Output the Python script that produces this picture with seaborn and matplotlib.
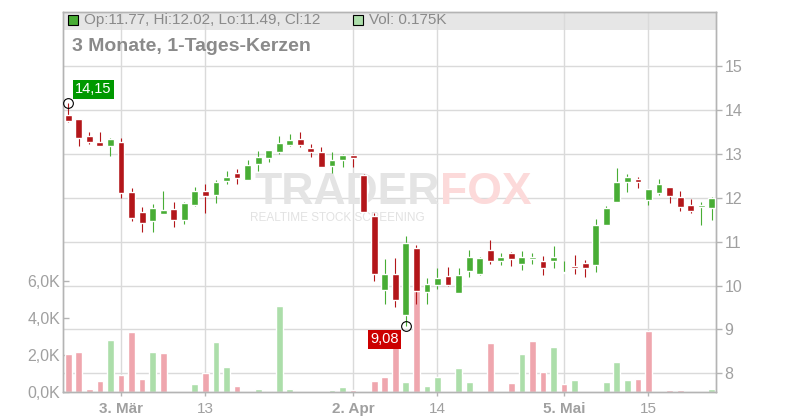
import numpy as np
import pandas as pd
import seaborn as sns
import matplotlib
matplotlib.use('Agg')
import matplotlib.pyplot as plt
from matplotlib.patches import Rectangle
from matplotlib.transforms import blended_transform_factory

# daily candles, 24 Feb - 23 May (trading days only)
opens = [13.89, 13.80, 13.41, 13.27, 13.17, 13.27, 12.13, 11.68, 11.46, 11.62,
         11.75, 11.50, 11.84, 12.15, 12.07, 12.39, 12.56, 12.41, 12.78, 12.91,
         13.05, 13.21, 13.34, 13.13, 13.04, 12.73, 12.87, 12.97, 12.52, 11.59,
         9.89, 10.26, 9.32, 10.86, 9.86, 10.01, 10.22, 9.82, 10.34, 10.26,
         10.81, 10.55, 10.74, 10.50, 10.61, 10.56, 10.55, 10.29, 10.45, 10.52,
         10.48, 11.39, 11.91, 12.35, 12.43, 11.96, 12.12, 12.25, 12.02, 11.84,
         11.78, 11.77]
highs = [14.15, 13.80, 13.50, 13.50, 13.37, 13.36, 12.22, 11.79, 11.86, 12.15,
         11.90, 11.90, 12.25, 12.32, 12.41, 12.61, 12.66, 12.86, 13.07, 13.09,
         13.41, 13.45, 13.50, 13.23, 13.16, 13.04, 13.00, 13.00, 12.54, 11.65,
         10.61, 10.63, 11.13, 10.92, 10.17, 10.40, 10.42, 10.40, 10.80, 10.64,
         11.04, 10.74, 10.76, 10.79, 10.74, 10.67, 10.90, 10.57, 10.70, 10.59,
         11.52, 11.82, 12.68, 12.54, 12.47, 12.19, 12.43, 12.25, 12.15, 11.97,
         11.90, 12.02]
lows = [13.73, 13.19, 13.23, 13.19, 12.95, 12.00, 11.46, 11.23, 11.21, 11.62,
        11.34, 11.41, 11.82, 11.65, 11.89, 12.32, 12.32, 12.41, 12.62, 12.82,
        13.00, 13.19, 13.16, 12.93, 12.71, 12.57, 12.71, 12.69, 11.68, 10.11,
        9.58, 9.52, 9.08, 9.59, 9.59, 9.93, 9.99, 9.82, 10.20, 10.25,
        10.50, 10.48, 10.45, 10.36, 10.50, 10.25, 10.39, 10.29, 10.27, 10.20,
        10.32, 11.39, 11.91, 12.14, 12.23, 11.84, 12.07, 11.87, 11.71, 11.66,
        11.39, 11.49]
closes = [13.76, 13.37, 13.26, 13.19, 13.34, 12.12, 11.53, 11.43, 11.77, 11.72,
          11.50, 11.88, 12.15, 12.03, 12.35, 12.47, 12.44, 12.75, 12.93, 13.09,
          13.24, 13.32, 13.21, 13.05, 12.71, 12.86, 12.97, 12.91, 11.68, 10.27,
          10.26, 9.68, 10.97, 9.88, 10.03, 10.17, 10.01, 10.23, 10.65, 10.63,
          10.55, 10.65, 10.61, 10.65, 10.64, 10.39, 10.65, 10.30, 10.41, 10.39,
          11.38, 11.77, 12.36, 12.47, 12.35, 12.19, 12.31, 12.05, 11.78, 11.71,
          11.84, 12.00]
volumes_k = [2.05, 2.16, 0.16, 0.59, 2.81, 0.92, 3.24, 0.70, 2.16, 2.13,
             0, 0, 0.43, 1.03, 2.70, 1.35, 0.32, 0, 0.16, 0.07,
             4.65, 0.16, 0, 0, 0, 0.12, 0.27, 0.11, 0, 0.59,
             0.81, 2.72, 0.56, 6.5, 0.32, 0.83, 0, 1.32, 0.56, 0,
             2.67, 0, 0.49, 2.05, 2.76, 1.08, 2.43, 0.43, 0.65, 0,
             0, 0.54, 1.62, 0.65, 0.70, 3.30, 0, 0.11, 0.11, 0,
             0, 0.175]

tick_pos = [5, 13, 27, 35, 47, 55]
tick_labels = ['3. Mär', '13', '2. Apr', '14', '5. Mai', '15']
month_ticks = ['3. Mär', '2. Apr', '5. Mai']
price_ticks = [8, 9, 10, 11, 12, 13, 14, 15]
vol_ticks = [0, 2, 4, 6]
vol_tick_labels = ['0,0K', '2,0K', '4,0K', '6,0K']

o = np.array(opens); h = np.array(highs); l = np.array(lows); c = np.array(closes)
idx = np.arange(len(o))
prev = np.r_[o[0], c[:-1]]
df = pd.DataFrame({'idx': idx, 'vol': volumes_k,
                   'dir': np.where(c >= prev, 'up', 'down')})

sns.set_style('white')
plt.rcParams['font.family'] = ['Liberation Sans', 'DejaVu Sans']

GREEN = '#48ad35'
RED = '#b3161a'
GRID = '#dadada'
SPINE = '#b4b4b4'
TXT = '#a0a0a0'

fig = plt.figure(figsize=(8, 4.2), dpi=100)
ax_vol = fig.add_axes([63/800, 28/420, 653/800, 380/420])
ax_p = ax_vol.twinx()

# volume bars (behind)
sns.barplot(data=df, x='idx', y='vol', hue='dir',
            palette={'up': '#acdeaa', 'down': '#efa6ae'},
            dodge=False, width=0.64, saturation=1, errorbar=None,
            legend=False, ax=ax_vol)
ax_vol.set_xlim(-0.5, 61.4)
ax_vol.set_ylim(0, 20.54)
ax_p.set_ylim(7.576, 16.232)
ax_vol.set_xlabel('')
ax_vol.set_ylabel('')

# header band + grid
ax_vol.add_patch(Rectangle((0, 0.9526), 1, 0.0474, transform=ax_vol.transAxes,
                           fc='#e6e6e6', ec='none', zorder=0.2))
ax_vol.set_axisbelow(True)
ax_vol.grid(axis='x', color=GRID, lw=1)
ax_vol.grid(axis='y', visible=False)
trans = blended_transform_factory(ax_vol.transAxes, ax_p.transData)
ax_vol.hlines(price_ticks, 0, 1, transform=trans, color=GRID, lw=1, zorder=0.5)

# watermark
ax_vol.text(0.5773, 0.526, 'TRADER', transform=ax_vol.transAxes, fontsize=32,
            fontweight='bold', color='#e4e4e4', ha='right', va='center', zorder=0.6)
ax_vol.text(0.5773, 0.526, 'FOX', transform=ax_vol.transAxes, fontsize=32,
            fontweight='bold', color='#fcdada', ha='left', va='center', zorder=0.6)
ax_vol.text(0.2864, 0.458, 'REALTIME STOCK SCREENING', transform=ax_vol.transAxes,
            fontsize=8.5, color='#e2e2e2', ha='left', va='center', zorder=0.6)

# candles
colors = np.where(c >= o, GREEN, RED)
ax_p.vlines(idx, l, h, colors=colors, lw=0.8, zorder=2)
ax_p.bar(idx, np.maximum(np.abs(c - o), 0.02), bottom=np.minimum(o, c),
         width=0.65, color=colors, zorder=3)

# high / low markers
hi_i = int(np.argmax(h)); lo_i = int(np.argmin(l))
for i, v in [(hi_i, h[hi_i]), (lo_i, l[lo_i])]:
    ax_p.plot(i, v, 'o', ms=7, mfc='none', mec='black', mew=0.8, zorder=5)
ax_p.annotate(f'{h[hi_i]:.2f}'.replace('.', ','), xy=(hi_i, h[hi_i]),
              xytext=(25, 14), textcoords='offset pixels', ha='center', va='center',
              color='white', fontsize=10.5, zorder=6,
              bbox=dict(boxstyle='square,pad=0.15', fc='#009900', ec='none'))
ax_p.annotate(f'{l[lo_i]:.2f}'.replace('.', ','), xy=(lo_i, l[lo_i]),
              xytext=(-21, -13.5), textcoords='offset pixels', ha='center', va='center',
              color='white', fontsize=10.5, zorder=6,
              bbox=dict(boxstyle='square,pad=0.15', fc='#cc0000', ec='none'))

# axes styling
ax_p.set_yticks(price_ticks)
ax_p.tick_params(axis='y', right=True, direction='out', length=4, width=1,
                 color=SPINE, labelcolor=TXT, labelsize=11.5, pad=2)
ax_vol.set_yticks(vol_ticks)
ax_vol.set_yticklabels(vol_tick_labels)
ax_vol.tick_params(axis='y', left=True, direction='in', length=4, width=1,
                   color=SPINE, labelcolor=TXT, labelsize=11.5, pad=2)
ax_vol.set_xticks(tick_pos)
ax_vol.set_xticklabels(tick_labels)
ax_vol.tick_params(axis='x', bottom=True, direction='out', length=3, width=1,
                   color=SPINE, labelcolor=TXT, labelsize=11, pad=4)
for lab in ax_vol.get_xticklabels():
    if lab.get_text() in month_ticks:
        lab.set_fontweight('bold')
for ax in (ax_vol, ax_p):
    for s in ax.spines.values():
        s.set_visible(True)
        s.set_color(SPINE)
        s.set_linewidth(1)

# header texts
last = len(o) - 1
ax_p.plot(0.0153, 0.979, 's', ms=7, mfc=GREEN, mec='black', mew=0.8,
          transform=ax_p.transAxes, clip_on=False, zorder=7)
ax_p.text(0.0322, 0.979, f'Op:{o[last]:g}, Hi:{h[last]:g}, Lo:{l[last]:g}, Cl:{c[last]:g}',
          transform=ax_p.transAxes, fontsize=11, color='#8a8a8a', va='center', ha='left')
ax_p.plot(0.4518, 0.979, 's', ms=7, mfc='#acdeaa', mec='black', mew=0.8,
          transform=ax_p.transAxes, clip_on=False, zorder=7)
ax_p.text(0.4686, 0.979, f'Vol: {volumes_k[last]:g}K', transform=ax_p.transAxes,
          fontsize=11, color='#8a8a8a', va='center', ha='left')
ax_p.text(0.0138, 0.908, '3 Monate, 1-Tages-Kerzen', transform=ax_p.transAxes,
          fontsize=14, fontweight='bold', color='#8a8a8a', va='center', ha='left')

fig.savefig('out.png', dpi=100)
